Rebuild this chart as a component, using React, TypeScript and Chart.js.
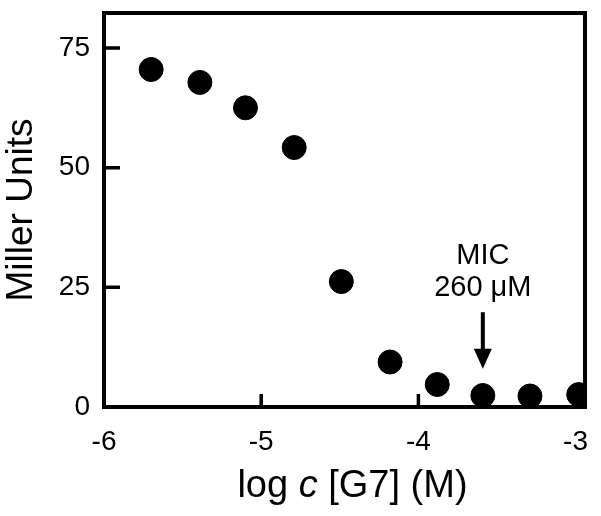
import React, { useEffect, useRef } from "react";
import { Chart, registerables } from "chart.js";

Chart.register(...registerables);

const logConc = [-5.7, -5.39, -5.1, -4.79, -4.49, -4.18, -3.88, -3.59, -3.29, -2.98];
const millerUnits = [70.5, 67.8, 62.5, 54.2, 26.2, 9.4, 4.7, 2.4, 2.3, 2.6];
const xTicks = [-6, -5, -4, -3];
const yTicks = [0, 25, 50, 75];
const micX = -3.59;
const micArrowTop = 19.8;
const micArrowTip = 8.0;
const micLabel = ["MIC", "260 μM"];
const xTitleParts = [
  { text: "log ", italic: false },
  { text: "c", italic: true },
  { text: " [G7] (M)", italic: false },
];
const yTitle = "Miller Units";

const FONT = "'Liberation Sans', Arial, Helvetica, sans-serif";

const framePlugin = {
  id: "frame",
  afterDraw(chart: any) {
    const { ctx, chartArea } = chart;
    const xs = chart.scales.x;
    const ys = chart.scales.y;
    ctx.save();
    ctx.strokeStyle = "#000";
    ctx.lineWidth = 4;
    ctx.strokeRect(chartArea.left, chartArea.top, chartArea.right - chartArea.left, chartArea.bottom - chartArea.top);
    ctx.lineWidth = 3.5;
    ctx.beginPath();
    xTicks.forEach((v) => {
      const px = xs.getPixelForValue(v);
      if (px > chartArea.left + 3 && px < chartArea.right - 3) {
        ctx.moveTo(px, chartArea.bottom);
        ctx.lineTo(px, chartArea.bottom - 13);
      }
    });
    yTicks.forEach((v) => {
      const py = ys.getPixelForValue(v);
      if (py > chartArea.top + 3 && py < chartArea.bottom - 3) {
        ctx.moveTo(chartArea.left, py);
        ctx.lineTo(chartArea.left + 16, py);
      }
    });
    ctx.stroke();

    // arrow
    const ax = xs.getPixelForValue(micX);
    const aTop = ys.getPixelForValue(micArrowTop);
    const aTip = ys.getPixelForValue(micArrowTip);
    ctx.lineWidth = 4;
    ctx.beginPath();
    ctx.moveTo(ax, aTop);
    ctx.lineTo(ax, aTip - 18);
    ctx.stroke();
    ctx.fillStyle = "#000";
    ctx.beginPath();
    ctx.moveTo(ax - 9, aTip - 20);
    ctx.lineTo(ax + 9, aTip - 20);
    ctx.lineTo(ax, aTip);
    ctx.closePath();
    ctx.fill();

    // label
    ctx.font = `29px ${FONT}`;
    ctx.textAlign = "center";
    ctx.textBaseline = "alphabetic";
    ctx.fillText(micLabel[0], ax, aTop - 48);
    ctx.fillText(micLabel[1], ax, aTop - 16);

    // x title with italic c
    const size = 38;
    const fonts = xTitleParts.map((p) => `${p.italic ? "italic " : ""}${size}px ${FONT}`);
    const widths = xTitleParts.map((p, i) => {
      ctx.font = fonts[i];
      return ctx.measureText(p.text).width;
    });
    const total = widths.reduce((a, b) => a + b, 0);
    let x = (chartArea.left + chartArea.right) / 2 + 8 - total / 2;
    const baseY = chartArea.bottom + 90;
    ctx.textAlign = "left";
    xTitleParts.forEach((p, i) => {
      ctx.font = fonts[i];
      ctx.fillText(p.text, x, baseY);
      x += widths[i];
    });
    ctx.restore();
  },
};

export default function App() {
  const ref = useRef<HTMLCanvasElement>(null);
  useEffect(() => {
    if (!ref.current) return;
    const chart = new Chart(ref.current, {
      type: "scatter",
      data: {
        datasets: [
          {
            data: logConc.map((x, i) => ({ x, y: millerUnits[i] })),
            backgroundColor: "#000",
            borderColor: "#000",
            pointRadius: 12,
            pointBorderWidth: 1,
            pointHoverRadius: 12,
          },
        ],
      },
      options: {
        animation: false,
        responsive: true,
        maintainAspectRatio: false,
        layout: { padding: { top: 12, right: 16, left: 0, bottom: 0 } },
        plugins: { legend: { display: false }, tooltip: { enabled: false } },
        scales: {
          x: {
            type: "linear",
            min: -6,
            max: -2.94,
            grid: { display: false, drawTicks: false },
            border: { display: false },
            afterBuildTicks: (s: any) => {
              s.ticks = xTicks.map((v) => ({ value: v }));
            },
            afterFit: (s: any) => {
              s.height = 109;
              s.paddingLeft = 0;
              s.paddingRight = 0;
            },
            ticks: {
              color: "#000",
              padding: 18,
              maxRotation: 0,
              autoSkip: false,
              font: { family: FONT, size: 28 },
              callback: (v: any) => String(v),
            },
            title: { display: false },
          },
          y: {
            type: "linear",
            min: 0,
            max: 82.3,
            grid: { display: false, drawTicks: false },
            border: { display: false },
            afterBuildTicks: (s: any) => {
              s.ticks = yTicks.map((v) => ({ value: v }));
            },
            afterFit: (s: any) => {
              s.width = 104;
              s.paddingTop = 0;
              s.paddingBottom = 0;
            },
            ticks: {
              color: "#000",
              padding: 14,
              font: { family: FONT, size: 28 },
              callback: (v: any) => String(v),
            },
            title: {
              display: true,
              text: yTitle,
              color: "#000",
              font: { family: FONT, size: 37 },
              padding: { top: 0, bottom: 0 },
            },
          },
        },
      },
      plugins: [framePlugin],
    });
    return () => chart.destroy();
  }, []);
  return (
    <div style={{ position: "absolute", left: 0, top: 0, width: 601, height: 516, background: "#fff" }}>
      <canvas ref={ref} />
    </div>
  );
}
